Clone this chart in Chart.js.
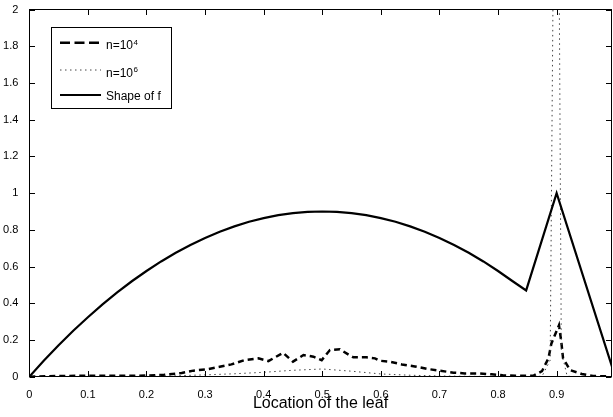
<!DOCTYPE html>
<html><head><meta charset="utf-8">
<script src="https://cdn.jsdelivr.net/npm/chart.js@4/dist/chart.umd.min.js"></script>
<style>html,body{margin:0;padding:0;background:#fff;}canvas{display:block}</style>
</head><body>
<canvas id="c" width="613" height="417"></canvas>
<script>
// ---- data ----
const xTicks = [0, 0.1, 0.2, 0.3, 0.4, 0.5, 0.6, 0.7, 0.8, 0.9];
const yTicks = [0, 0.2, 0.4, 0.6, 0.8, 1, 1.2, 1.4, 1.6, 1.8, 2];

const n4X = [0, 0.05, 0.1, 0.15, 0.2, 0.23, 0.26, 0.28, 0.303, 0.325, 0.345, 0.368, 0.391, 0.408, 0.433, 0.45, 0.468, 0.485, 0.499, 0.513, 0.53, 0.545, 0.553, 0.575, 0.59, 0.598, 0.615, 0.636, 0.658, 0.68, 0.70, 0.724, 0.743, 0.766, 0.789, 0.808, 0.83, 0.86, 0.875, 0.886, 0.891, 0.904, 0.908, 0.911, 0.923, 0.943, 0.962, 0.99];
const n4Y = [0, 0.004, 0.005, 0.005, 0.006, 0.01, 0.02, 0.033, 0.04, 0.054, 0.067, 0.091, 0.10, 0.085, 0.13, 0.082, 0.118, 0.109, 0.09, 0.145, 0.15, 0.12, 0.106, 0.106, 0.10, 0.087, 0.082, 0.067, 0.056, 0.042, 0.033, 0.022, 0.018, 0.018, 0.013, 0.008, 0.005, 0.005, 0.03, 0.1, 0.18, 0.28, 0.19, 0.1, 0.036, 0.015, 0.004, 0.002];

const n6X = [0, 0.1, 0.2, 0.25, 0.3, 0.35, 0.4, 0.45, 0.5, 0.55, 0.6, 0.65, 0.7, 0.75, 0.8, 0.85, 0.875, 0.889, 0.9, 0.908, 0.918, 0.95, 0.99];
const n6Y = [0, 0.001, 0.002, 0.005, 0.01, 0.016, 0.024, 0.035, 0.042, 0.03, 0.015, 0.008, 0.004, 0.002, 0.001, 0.001, 0.002, 0.09, 4.6, 0.14, 0.002, 0, 0];

const fX = [0, 0.025, 0.05, 0.075, 0.1, 0.125, 0.15, 0.175, 0.2, 0.225, 0.25, 0.275, 0.3, 0.325, 0.35, 0.375, 0.4, 0.425, 0.45, 0.475, 0.5, 0.525, 0.55, 0.575, 0.6, 0.625, 0.65, 0.675, 0.7, 0.725, 0.75, 0.775, 0.8, 0.825, 0.848, 0.9, 1.0];
const fY = [0, 0.088, 0.171, 0.250, 0.324, 0.394, 0.459, 0.520, 0.576, 0.628, 0.675, 0.718, 0.756, 0.790, 0.819, 0.844, 0.864, 0.880, 0.891, 0.898, 0.9, 0.898, 0.891, 0.880, 0.864, 0.844, 0.819, 0.790, 0.756, 0.718, 0.675, 0.628, 0.576, 0.520, 0.47, 1.0, 0];

const labels = ['n=10', 'n=10', 'Shape of f'];
const labelSup = ['4', '6', ''];

// ---- chart ----
const FONT = '"Liberation Sans", Arial, Helvetica, sans-serif';
const pts = (xs, ys) => xs.map((x, i) => ({x: x, y: ys[i]}));

const axesBox = {
  id: 'axesBox',
  afterDraw(chart) {
    const {ctx, chartArea: a, scales: {x, y}} = chart;
    const L = Math.floor(a.left) + 0.5, R = Math.floor(a.right) + 0.5;
    const T = Math.floor(a.top) + 0.5, B = Math.floor(a.bottom) + 0.5;
    const tl = 5.5;
    ctx.save();
    ctx.strokeStyle = '#000';
    ctx.lineWidth = 1;
    ctx.setLineDash([]);
    ctx.strokeRect(L, T, R - L, B - T);
    ctx.beginPath();
    xTicks.forEach(v => {
      const px = Math.round(x.getPixelForValue(v)) + 0.5;
      ctx.moveTo(px, B); ctx.lineTo(px, B - tl);
      ctx.moveTo(px, T); ctx.lineTo(px, T + tl);
    });
    yTicks.forEach(v => {
      const py = Math.round(y.getPixelForValue(v)) + 0.5;
      ctx.moveTo(L, py); ctx.lineTo(L + tl, py);
      ctx.moveTo(R, py); ctx.lineTo(R - tl, py);
    });
    ctx.stroke();

    // legend
    const bx = 51.5, by = 27.5, bw = 120, bh = 81;
    ctx.fillStyle = '#fff';
    ctx.fillRect(bx, by, bw, bh);
    ctx.strokeRect(bx, by, bw, bh);
    const rows = [42.7, 70, 95];
    const legendDash = [[10, 4.5], [1.5, 3.5], []];
    chart.data.datasets.forEach((ds, i) => {
      const yy = rows[i];
      ctx.strokeStyle = ds.borderColor;
      ctx.lineWidth = ds.borderWidth;
      ctx.setLineDash(legendDash[i]);
      ctx.beginPath();
      ctx.moveTo(60, yy); ctx.lineTo(101, yy);
      ctx.stroke();
      ctx.setLineDash([]);
      ctx.fillStyle = '#000';
      ctx.textBaseline = 'alphabetic';
      ctx.textAlign = 'left';
      ctx.font = '12px ' + FONT;
      const base = yy + (labelSup[i] ? 6.5 : 5);
      ctx.fillText(labels[i], 106, base);
      if (labelSup[i]) {
        const w = ctx.measureText(labels[i]).width;
        ctx.font = '8px ' + FONT;
        ctx.fillText(labelSup[i], 106 + w + 0.5, base - 4.5);
      }
    });
    ctx.restore();
  }
};

new Chart(document.getElementById('c'), {
  type: 'line',
  data: {
    datasets: [
      {label: 'n=10⁴', data: pts(n4X, n4Y), borderColor: '#000', borderWidth: 2.5, borderDash: [6, 4], pointRadius: 0, fill: false, tension: 0, order: 3},
      {label: 'n=10⁶', data: pts(n6X, n6Y), borderColor: '#444', borderWidth: 1, borderDash: [1.5, 3.5], pointRadius: 0, fill: false, tension: 0, order: 2},
      {label: 'Shape of f', data: pts(fX, fY), borderColor: '#000', borderWidth: 2.2, pointRadius: 0, fill: false, tension: 0, order: 1}
    ]
  },
  options: {
    responsive: false,
    animation: false,
    events: [],
    layout: {padding: {top: 9.3, right: 1.3, left: 0, bottom: 0}},
    plugins: {legend: {display: false}, tooltip: {enabled: false}},
    scales: {
      x: {
        type: 'linear', min: 0, max: 0.994,
        afterBuildTicks: s => { s.ticks = xTicks.map(v => ({value: v})); },
        afterFit: s => { s.height = 40.3; },
        grid: {display: false}, border: {display: false},
        ticks: {padding: 4, color: '#000', font: {size: 11, family: FONT}, maxRotation: 0, autoSkip: false,
          callback: v => String(+(+v).toFixed(1))},
        title: {display: true, text: 'Location of the leaf', color: '#000', font: {size: 16, family: FONT}, padding: {top: 0, bottom: 3.5}}
      },
      y: {
        type: 'linear', min: 0, max: 2,
        afterBuildTicks: s => { s.ticks = yTicks.map(v => ({value: v})); },
        afterFit: s => { s.width = 29.3; },
        grid: {display: false}, border: {display: false},
        ticks: {padding: 3, color: '#000', font: {size: 11, family: FONT}, autoSkip: false,
          callback: v => String(+(+v).toFixed(1))}
      }
    }
  },
  plugins: [axesBox]
});
</script>
</body></html>
